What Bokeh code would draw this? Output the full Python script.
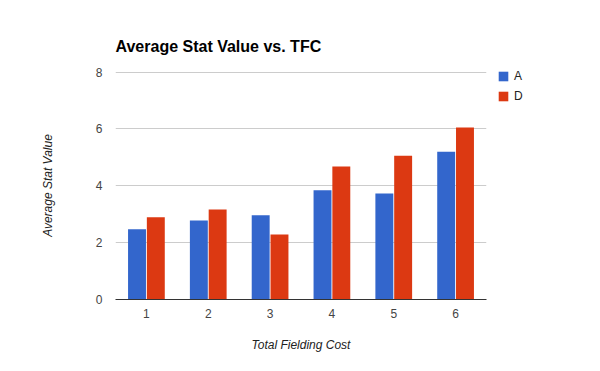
from bokeh.plotting import figure
from bokeh.models import ColumnDataSource, FixedTicker, Legend, LegendItem
from bokeh.transform import dodge
from bokeh.embed import file_html
from bokeh.resources import INLINE

categories = [1, 2, 3, 4, 5, 6]
series_a = [2.47, 2.78, 2.96, 3.84, 3.73, 5.20]
series_d = [2.89, 3.17, 2.29, 4.68, 5.06, 6.05]
y_ticks = [0, 2, 4, 6, 8]

src = ColumnDataSource(dict(x=categories, a=series_a, d=series_d))

FONT = "Liberation Sans"

p = figure(frame_width=371, frame_height=228, x_range=(0.5, 6.5), y_range=(0, 8.02),
           output_backend="svg", toolbar_location=None,
           min_border_left=115, min_border_right=0,
           min_border_top=71, min_border_bottom=72,
           title="Average Stat Value vs. TFC")
p.outline_line_color = None
p.background_fill_color = "white"
p.border_fill_color = "white"

p.title.text_font = FONT
p.title.text_font_size = "16px"
p.title.text_font_style = "bold"
p.title.text_color = "#000000"
p.title.align = "left"
p.title.standoff = 34

ra = p.vbar(x=dodge("x", -0.152, range=p.x_range), top="a", width=0.29, bottom=0,
            source=src, fill_color="#3366cc", line_color=None)
rd = p.vbar(x=dodge("x", 0.152, range=p.x_range), top="d", width=0.29, bottom=0,
            source=src, fill_color="#dc3912", line_color=None)

p.xgrid.grid_line_color = None
p.ygrid.grid_line_color = "#cccccc"
p.ygrid.ticker = FixedTicker(ticks=y_ticks)

p.yaxis.ticker = FixedTicker(ticks=y_ticks)
p.xaxis.ticker = FixedTicker(ticks=categories)

for ax in (p.xaxis[0], p.yaxis[0]):
    ax.major_tick_line_color = None
    ax.minor_tick_line_color = None
    ax.major_label_text_font = FONT
    ax.major_label_text_font_size = "12px"
    ax.major_label_text_color = "#444444"
    ax.axis_label_text_font = FONT
    ax.axis_label_text_font_size = "12px"
    ax.axis_label_text_font_style = "italic"
    ax.axis_label_text_color = "#222222"

p.yaxis.axis_line_color = None
p.xaxis.axis_line_color = "#333333"
p.xaxis.axis_line_width = 1
p.yaxis.major_label_standoff = 7
p.xaxis.major_label_standoff = 3
p.yaxis.axis_label = "Average Stat Value"
p.xaxis.axis_label = "Total Fielding Cost"
p.yaxis.axis_label_standoff = 38
p.xaxis.axis_label_standoff = 17

legend = Legend(items=[LegendItem(label="A", renderers=[ra]),
                       LegendItem(label="D", renderers=[rd])],
                location=(11, 196), orientation="vertical")
legend.border_line_color = None
legend.background_fill_alpha = 0
legend.margin = 0
legend.padding = 0
legend.label_text_font = FONT
legend.label_text_font_size = "12px"
legend.label_text_color = "#222222"
legend.glyph_width = 12
legend.glyph_height = 12
legend.label_height = 12
legend.label_standoff = 5
legend.spacing = 6
p.add_layout(legend, "right")

open("out.html", "w").write(file_html(p, INLINE))
